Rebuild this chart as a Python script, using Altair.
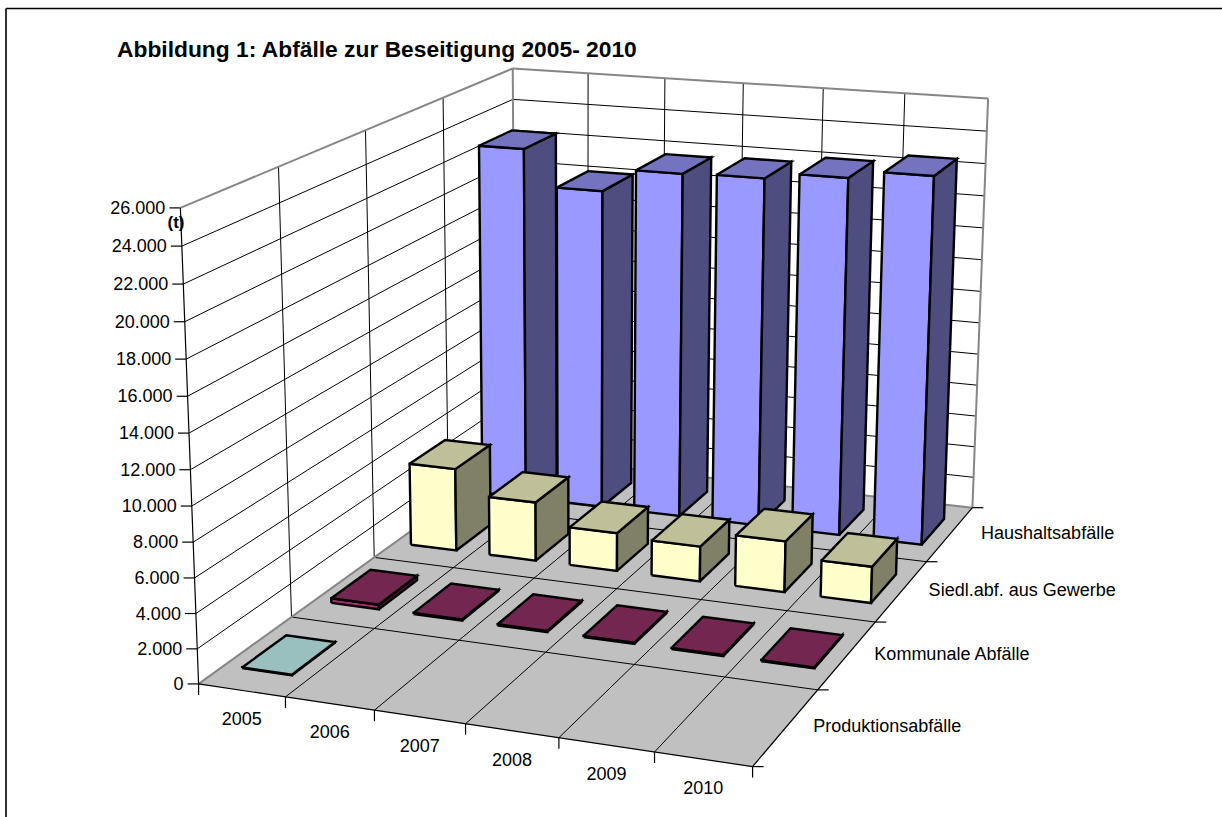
import altair as alt
import numpy as np
import pandas as pd

# Chart values in tonnes
YEARS = ["2005", "2006", "2007", "2008", "2009", "2010"]
SERIES = ["Produktionsabfälle", "Kommunale Abfälle", "Siedl.abf. aus Gewerbe", "Haushaltsabfälle"]
PRODUKTION = [30, 0, 0, 0, 0, 0]
KOMMUNAL = [280, 70, 70, 70, 60, 60]
GEWERBE = [5150, 3650, 2350, 2150, 3100, 2200]
HAUSHALT = [22560, 20300, 21750, 21850, 22250, 22750]
VALUES = [PRODUKTION, KOMMUNAL, GEWERBE, HAUSHALT]
Y_TICKS = list(range(0, 26001, 2000))
Y_MAX = 26000

# Face colours per series: front, top, side
FRONT = ["#CCFFFF", "#A82E70", "#FFFFCC", "#9999FF"]
TOP = ["#99BFBF", "#732650", "#BFBF99", "#7373BF"]
SIDE = ["#668080", "#4D1A33", "#808066", "#4D4D80"]
BAR_U = (0.21, 0.79)
BAR_V = (0.265, 0.745)

W, H = 1222, 817
FONT = "Liberation Sans"
LABEL_SIZE = 18

# Perspective camera solved from where the box corners sit on the page:
# (years, series, height) in unit-cube coordinates -> page pixels
BOX = [
    ((0, 0, 0), (199.5, 683)),
    ((1, 0, 0), (752.5, 767.5)),
    ((1, 1, 0), (973, 506.5)),
    ((0, 1, 0), (514, 457)),
    ((0, 0, 1), (179.5, 208)),
    ((0, 1, 1), (514, 68)),
    ((1, 1, 1), (987.5, 99)),
]
rows, rhs = [], []
for (a, b, c), (px, py) in BOX:
    rows.append([a, b, c, 1, 0, 0, 0, 0, -px * a, -px * b, -px * c])
    rhs.append(px)
    rows.append([0, 0, 0, 0, a, b, c, 1, -py * a, -py * b, -py * c])
    rhs.append(py)
CAM = np.append(np.linalg.lstsq(np.array(rows, float), np.array(rhs, float), rcond=None)[0], 1).reshape(3, 4)


def project(year_pos, series_pos, value):
    """Map a year slot, series slot and tonnage onto the page."""
    p = CAM @ np.array([year_pos / len(YEARS), series_pos / len(SERIES), value / Y_MAX, 1.0])
    return float(p[0] / p[2]), float(p[1] / p[2])


faces, lines, labels = [], [], []


def add_face(corners, fill, stroke="#000000", width=2.4):
    for i, c in enumerate(list(corners) + [corners[0]]):
        x, y = project(*c)
        faces.append(dict(i=i, x=x, y=y, fill=fill, stroke=stroke, sw=width))


def add_line(a, b, stroke="#000000", width=1.0):
    pid = len(lines)
    lines.extend([
        dict(pid=pid, i=0, x=a[0], y=a[1], stroke=stroke, sw=width),
        dict(pid=pid, i=1, x=b[0], y=b[1], stroke=stroke, sw=width),
    ])


ny, ns = len(YEARS), len(SERIES)

# Chart frame
add_line((6, H + 5), (6, 8.5), "#000000", 1.6)
add_line((6, 8.5), (W + 5, 8.5), "#000000", 1.6)

# Walls and floor
wall_faces = [
    ([(0, 0, 0), (0, ns, 0), (0, ns, Y_MAX), (0, 0, Y_MAX)], "#FFFFFF"),
    ([(0, ns, 0), (ny, ns, 0), (ny, ns, Y_MAX), (0, ns, Y_MAX)], "#FFFFFF"),
    ([(0, 0, 0), (ny, 0, 0), (ny, ns, 0), (0, ns, 0)], "#C0C0C0"),
]
for corners, fill in wall_faces:
    add_face(corners, fill, fill, 0.5)

# Gridlines on both walls and the floor
for t in Y_TICKS[1:-1]:
    add_line(project(0, 0, t), project(0, ns, t))
    add_line(project(0, ns, t), project(ny, ns, t))
for s in range(1, ns):
    add_line(project(0, s, 0), project(0, s, Y_MAX))
    add_line(project(0, s, 0), project(ny, s, 0))
for y in range(1, ny):
    add_line(project(y, ns, 0), project(y, ns, Y_MAX))
    add_line(project(y, 0, 0), project(y, ns, 0))

# Grey box edges
edge = "#868686"
add_line(project(0, 0, Y_MAX), project(0, ns, Y_MAX), edge, 2)
add_line(project(0, ns, Y_MAX), project(ny, ns, Y_MAX), edge, 2)
add_line(project(0, ns, 0), project(0, ns, Y_MAX), edge, 2)
add_line(project(ny, ns, 0), project(ny, ns, Y_MAX), edge, 2)
add_line(project(0, 0, 0), project(0, ns, 0), edge, 2)
add_line(project(0, ns, 0), project(ny, ns, 0), edge, 2)

# Axis lines and ticks
add_line(project(0, 0, 0), project(0, 0, Y_MAX), "#000000", 1.2)
add_line(project(0, 0, 0), project(ny, 0, 0), "#000000", 1.2)
add_line(project(ny, 0, 0), project(ny, ns, 0), "#000000", 1.2)
for t in Y_TICKS:
    x, y = project(0, 0, t)
    add_line((x - 11, y), (x, y), "#000000", 1.2)
    labels.append(dict(x=x - 15, y=y + 1, text=f"{t:,}".replace(",", "."), align="right", size=LABEL_SIZE, weight="normal"))
for k in range(ny + 1):
    x, y = project(k, 0, 0)
    add_line((x, y), (x, y + 11), "#000000", 1.2)
for k in range(ns + 1):
    x, y = project(ny, k, 0)
    add_line((x, y), (x + 11, y), "#000000", 1.2)
for k, name in enumerate(YEARS):
    x, y = project(k + 0.5, 0, 0)
    labels.append(dict(x=x, y=y + 30, text=name, align="center", size=LABEL_SIZE, weight="normal"))
for k, name in enumerate(SERIES):
    x, y = project(ny, k + 0.5, 0)
    labels.append(dict(x=x + (31 if k == ns - 1 else 27), y=y, text=name, align="left", size=LABEL_SIZE, weight="normal"))

# Bars, painted from the back row forward and from left to right
for s in reversed(range(ns)):
    for y in range(ny):
        v = VALUES[s][y]
        if v <= 0:
            continue
        u0, u1 = y + BAR_U[0], y + BAR_U[1]
        v0, v1 = s + BAR_V[0], s + BAR_V[1]
        add_face([(u0, v0, 0), (u1, v0, 0), (u1, v0, v), (u0, v0, v)], FRONT[s])
        add_face([(u1, v0, 0), (u1, v1, 0), (u1, v1, v), (u1, v0, v)], SIDE[s])
        add_face([(u0, v0, v), (u1, v0, v), (u1, v1, v), (u0, v1, v)], TOP[s])

labels.append(dict(x=117, y=50, text="Abbildung 1: Abfälle zur Beseitigung 2005- 2010", align="left", size=22.8, weight="bold"))
labels.append(dict(x=176, y=223, text="(t)", align="center", size=17, weight="bold"))

# Each closed outline gets its own id, numbered in paint order
face_df = pd.DataFrame(faces)
face_df["pid"] = (face_df["i"] == 0).cumsum()
line_df = pd.DataFrame(lines)
label_df = pd.DataFrame(labels)

x_scale = alt.Scale(domain=[0, W], range=[0, W], nice=False, zero=False)
y_scale = alt.Scale(domain=[0, H], range=[0, H], nice=False, zero=False)
X = alt.X("x:Q", scale=x_scale, axis=None)
Y = alt.Y("y:Q", scale=y_scale, axis=None)


def faces_layer(df):
    return alt.Chart(df).mark_line(strokeJoin="miter", clip=False).encode(
        x=X, y=Y,
        detail="pid:N",
        order="i:Q",
        stroke=alt.Stroke("stroke:N", scale=None),
        fill=alt.Fill("fill:N", scale=None),
        strokeWidth=alt.StrokeWidth("sw:Q", scale=None),
    )


def lines_layer(df):
    return alt.Chart(df).mark_line(clip=False).encode(
        x=X, y=Y,
        detail="pid:N",
        order="i:Q",
        stroke=alt.Stroke("stroke:N", scale=None),
        strokeWidth=alt.StrokeWidth("sw:Q", scale=None),
    )


wall_ids = face_df["pid"] <= len(wall_faces)
layers = [faces_layer(face_df[wall_ids]), lines_layer(line_df), faces_layer(face_df[~wall_ids])]
for (size, weight, align), part in label_df.groupby(["size", "weight", "align"]):
    layers.append(
        alt.Chart(part).mark_text(font=FONT, fontSize=size, fontWeight=weight, align=align, baseline="middle", color="#000000").encode(
            x=X, y=Y, text="text:N"
        )
    )

chart = alt.layer(*layers).properties(
    width=W, height=H, padding=0, autosize=alt.AutoSizeParams(type="none"), background="#FFFFFF"
).configure_view(stroke=None)

chart.save("out.html", embed_options={"renderer": "svg", "actions": False})
